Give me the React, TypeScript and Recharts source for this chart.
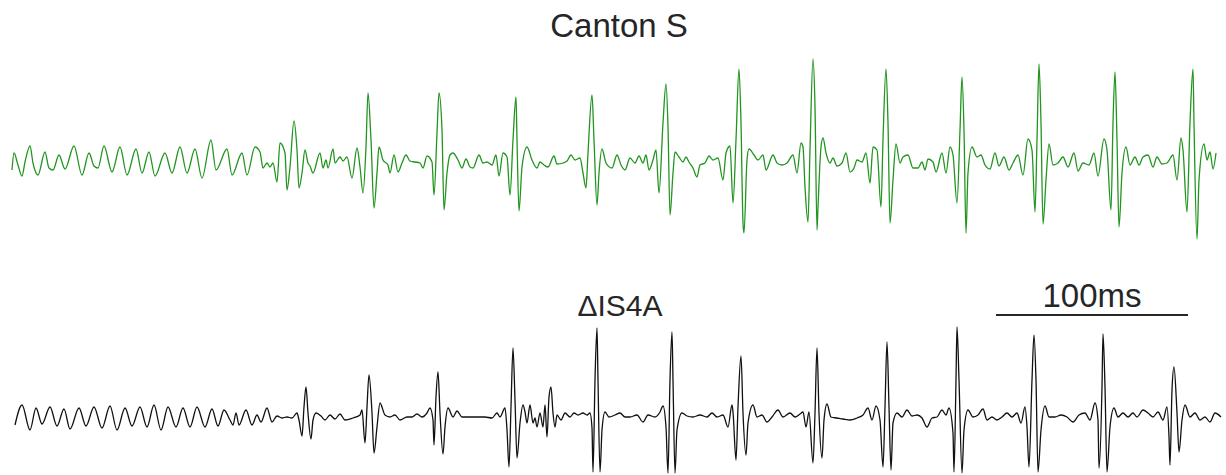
import React from 'react';
import { LineChart, Line, XAxis, YAxis, ReferenceLine } from 'recharts';

// time in samples (1920 samples/s, so 100 ms = 192 samples), amplitude in arbitrary units
const SAMPLES_PER_100MS = 192;
const SCALE_BAR_START = 996;

const cantonSine: [number, number][] = [
  [12, -10], [14, 7], [18, -5], [22, -16], [25, -2], [30, 14], [33, -3], [38, -15], [45, 8], [49, -8],
  [53, -10], [59, 5], [65, -9], [74, 14], [82, -15], [89, 7], [94, -6], [98, -8], [104, 14], [112, -12],
  [120, 13], [127, -15], [136, 11], [142, -13], [149, 8], [155, -16], [165, 7], [172, -13], [180, 13],
  [187, -13], [195, 11], [202, -18], [211, 20], [216, -10], [227, 11], [232, -15], [242, 7], [247, -15],
  [255, 13], [260, 8], [263, -8], [267, -3], [270, -7], [273, -3],
];

const cantonPulses: [number, number][] = [
  [277, -22], [280, 17], [285, 7], [287, -30], [290, -7], [294, 39], [297, 10], [299, -28], [302, -13],
  [305, 10], [308, -3], [310, -6], [313, -13], [320, 7], [323, -8], [326, 0], [328, -8], [333, 11],
  [335, -3], [340, 3], [343, -1], [347, 3], [352, -18], [357, 12], [360, -7], [363, -33], [366, 13],
  [368, 67], [371, 20], [374, -48], [377, -13], [379, 13], [383, 0], [388, -5], [390, -13], [394, 5],
  [398, -12], [402, -3], [406, 5], [410, -1], [415, -2], [420, -3], [423, -8], [427, 4], [432, -2],
  [434, -35], [437, 27], [439, 67], [442, 30], [444, -50], [447, -13], [450, 5], [453, 7], [458, 0],
  [462, -8], [466, 1], [470, -7], [473, -8], [479, 5], [483, -3], [487, -2], [492, -5], [496, 5],
  [499, -16], [503, 7], [507, 3], [510, -35], [513, 20], [516, 63], [517, 20], [519, -51], [522, -7],
  [527, 13], [532, 0], [537, -8], [540, -2], [544, -5], [548, -7], [554, 4], [557, -4], [563, -3],
  [567, -1], [571, 5], [575, 0], [580, 2], [583, -13], [586, -28], [588, 7], [592, 65], [594, 20],
  [597, -45], [599, -13], [602, 11], [606, -3], [612, -8], [617, 5], [621, -5], [625, -10], [630, 2],
  [635, -3], [639, 4], [643, -3], [646, 5], [649, -10], [653, 0], [656, 10], [659, -33], [663, 37],
  [666, 76], [668, 33], [670, -55], [673, -13], [675, 8], [679, 3], [683, -2], [686, 3], [689, -2],
  [693, -8], [697, -17], [700, -5], [705, -3], [709, 4], [713, 0], [718, 2], [723, -20], [726, 7],
  [730, 14], [733, -43], [736, 20], [739, 91], [741, 37], [743, -63], [744, -73], [747, 0], [749, 11],
  [754, 5], [758, 0], [763, 5], [766, -10], [773, 5], [777, -3], [782, -5], [787, -3], [793, 5],
  [797, -13], [801, 17], [803, 13], [805, -27], [808, -62], [810, 10], [813, 101], [815, 53], [817, -70],
  [818, -47], [821, 13], [823, 22], [826, 7], [830, -3], [833, 2], [837, -6], [842, -3], [846, 7],
  [850, -12], [854, -8], [857, 0], [862, -2], [866, 7], [870, -23], [873, 13], [877, 10], [881, -47],
  [883, 20], [886, 91], [888, 37], [890, -63], [893, -20], [896, 16], [900, -3], [903, 3], [908, 5],
  [913, -8], [918, -8], [922, -2], [925, -10], [928, 1], [933, -2], [936, -12], [942, 7], [946, -13],
  [950, 13], [953, 5], [957, -43], [960, 30], [962, 83], [964, 30], [966, -73], [968, -13], [972, 13],
  [977, 3], [981, 5], [985, -5], [990, -9], [995, 7], [999, -6], [1004, 3], [1009, -10], [1013, -3],
  [1018, 5], [1023, -15], [1028, 21], [1032, 10], [1035, -52], [1037, 20], [1039, 96], [1041, 37],
  [1043, -64], [1046, -20], [1049, 16], [1053, -5], [1058, -3], [1063, 3], [1068, -7], [1074, 7],
  [1078, -11], [1083, -3], [1089, -5], [1094, 7], [1098, -16], [1104, 21], [1107, 10], [1111, -50],
  [1113, 37], [1115, 88], [1117, 20], [1119, -67], [1122, -13], [1126, 13], [1130, -5], [1135, 3],
  [1139, -5], [1143, 3], [1148, 5], [1153, -7], [1157, 3], [1162, -4], [1167, -3], [1173, 5], [1177, -20],
  [1181, 22], [1183, 10], [1187, -52], [1190, 37], [1193, 91], [1194, 37], [1197, -79], [1199, -20],
  [1204, 16], [1207, 0], [1210, 8], [1213, -9], [1216, 7],
];

const is4aSine: [number, number][] = [
  [15, -8], [22, 12], [30, -13], [36, 9], [42, -7], [50, 10], [57, -9], [64, 8], [70, -12], [79, 9],
  [86, -9], [94, 10], [102, -11], [110, 11], [117, -13], [125, 9], [132, -9], [140, 10], [147, -10],
  [154, 12], [161, -13], [168, 10], [176, -10], [183, 9], [190, -10], [197, 10], [205, -10], [212, 8],
  [218, -9], [224, 7], [230, -3], [233, -8], [236, 4], [239, -8], [246, 7], [252, -8], [257, 2],
  [261, -5], [267, 9], [272, -5],
];

const is4aPulses: [number, number][] = [
  [277, 1], [282, -1], [287, 0], [292, -1], [297, 4], [299, -3], [302, -19], [304, 10], [306, 30],
  [308, 4], [311, -22], [313, -3], [316, 4], [321, 1], [325, -3], [330, 2], [335, -2], [340, 3],
  [345, -3], [353, -1], [360, 2], [362, 7], [365, -26], [367, 10], [369, 42], [372, 4], [374, -36],
  [377, -10], [380, 14], [385, 2], [390, 0], [395, 2], [400, -3], [407, 0], [412, 0], [417, 3],
  [422, 0], [427, 4], [430, 9], [433, -3], [434, -28], [436, 20], [438, 45], [440, 4], [443, -37],
  [445, -10], [448, 9], [453, 0], [457, 6], [462, 0], [470, 0], [477, 0], [485, 0], [492, -1],
  [497, 4], [500, 0], [505, 9], [507, -13], [509, -50], [511, 10], [513, 69], [515, 17], [517, -41],
  [520, -6], [523, 12], [525, 5], [527, -6], [530, 12], [533, -6], [535, -1], [537, -10], [540, 4],
  [543, -10], [545, 12], [547, -20], [549, 20], [551, 30], [553, 4], [555, -10], [557, 2], [561, -3],
  [565, 4], [570, 0], [574, 4], [578, 2], [583, 4], [587, 2], [590, 4], [592, -11], [593, -55],
  [595, 37], [597, 89], [598, 37], [600, -55], [602, -13], [605, 5], [609, 0], [615, 2], [620, 4],
  [625, 0], [630, 0], [637, 2], [643, -5], [648, 2], [655, 0], [660, 5], [663, 11], [666, -10],
  [668, -56], [670, 37], [672, 85], [673, 37], [675, -56], [677, -13], [682, 4], [687, 1], [693, 0],
  [700, 2], [707, 0], [712, 4], [717, 0], [723, 2], [728, -10], [732, 12], [733, 5], [736, -43],
  [738, 10], [741, 61], [743, 4], [746, -38], [748, -6], [753, 12], [757, 0], [762, 2], [767, -5],
  [772, 0], [778, 7], [783, 0], [790, 4], [795, 0], [800, 3], [803, 5], [806, -10], [809, 5],
  [813, -46], [815, 4], [817, 69], [819, 4], [822, -41], [824, -3], [827, 13], [831, 0], [837, -1],
  [843, -2], [850, -3], [857, -1], [863, 2], [868, 9], [872, -3], [876, 11], [880, -3], [883, -50],
  [885, 10], [887, 75], [889, 10], [891, -53], [893, -6], [897, 4], [902, 0], [907, 7], [912, 1],
  [917, 2], [922, -1], [927, -10], [932, -1], [937, 0], [942, 7], [946, 2], [949, 9], [953, -16],
  [954, -55], [956, 37], [957, 90], [959, 37], [962, -56], [964, -13], [968, 7], [973, 0], [978, 2],
  [983, 8], [987, -3], [992, 0], [997, -3], [1002, 0], [1007, 4], [1012, 0], [1017, 4], [1021, -6],
  [1025, 10], [1027, -10], [1029, -50], [1032, 37], [1034, 82], [1036, 37], [1038, -55], [1041, -13],
  [1045, 11], [1049, 0], [1055, 0], [1061, 2], [1067, 0], [1073, -5], [1079, 2], [1085, 4], [1090, -3],
  [1095, 14], [1098, -3], [1099, -51], [1102, 30], [1103, 83], [1105, 30], [1107, -55], [1110, -10],
  [1114, 9], [1118, 0], [1123, 4], [1128, 0], [1133, 4], [1137, 0], [1143, 7], [1148, 4], [1153, 0],
  [1158, 5], [1163, -3], [1167, 10], [1169, -20], [1170, -48], [1172, 27], [1174, 50], [1177, 4],
  [1179, -35], [1182, -3], [1185, 12], [1190, 0], [1195, 4], [1200, -3], [1205, 0], [1210, -5],
  [1215, 4], [1221, 0],
];

const toRows = (pts: [number, number][]) => pts.map(([t, v]) => ({ t, v }));

const cantonData = toRows([...cantonSine, ...cantonPulses]);
const is4aData = toRows([...is4aSine, ...is4aPulses]);

const W = 1226;
const TEXT = '#262626';
const FONT = '"Liberation Sans", Arial, sans-serif';

export default function App() {
  return (
    <div style={{ position: 'relative', width: W, height: 475, background: '#fff', fontFamily: FONT }}>
      <style>{'body{margin:0}'}</style>

      <div style={{ position: 'absolute', left: 0, top: 45 }}>
        <LineChart width={W} height={210} data={cantonData} margin={{ top: 0, right: 0, bottom: 0, left: 0 }}>
          <XAxis dataKey="t" type="number" domain={[0, W]} hide allowDataOverflow />
          <YAxis type="number" domain={[-95, 115]} hide allowDataOverflow />
          <Line type="monotoneX" dataKey="v" stroke="#21951f" strokeWidth={1.3} dot={false} isAnimationActive={false} />
        </LineChart>
      </div>

      <div style={{ position: 'absolute', left: 0, top: 270 }}>
        <LineChart width={W} height={205} data={is4aData} margin={{ top: 0, right: 0, bottom: 0, left: 0 }}>
          <XAxis dataKey="t" type="number" domain={[0, W]} hide allowDataOverflow />
          <YAxis type="number" domain={[-58, 147]} hide allowDataOverflow />
          <ReferenceLine
            segment={[{ x: SCALE_BAR_START, y: 102 }, { x: SCALE_BAR_START + SAMPLES_PER_100MS, y: 102 }]}
            stroke={TEXT}
            strokeWidth={2}
            label={{ value: '100ms', position: 'top', offset: 8, fontSize: 33, fill: TEXT, fontFamily: FONT }}
          />
          <Line type="monotoneX" dataKey="v" stroke="#111" strokeWidth={1.3} dot={false} isAnimationActive={false} />
        </LineChart>
      </div>

      <svg width={W} height={475} style={{ position: 'absolute', left: 0, top: 0, pointerEvents: 'none' }}>
        <text x={619} y={37} textAnchor="middle" fontSize={33} fill={TEXT} fontFamily={FONT}>Canton S</text>
        <text x={620} y={316} textAnchor="middle" fontSize={30} fill={TEXT} fontFamily={FONT}>ΔIS4A</text>
      </svg>
    </div>
  );
}
